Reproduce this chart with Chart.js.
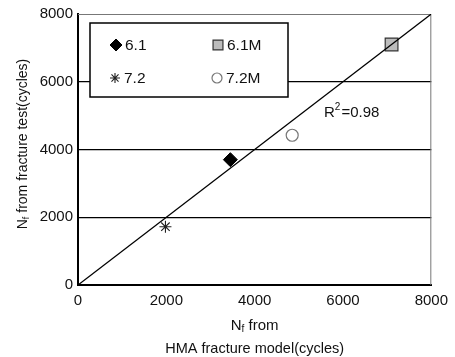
<!DOCTYPE html>
<html>
<head>
<meta charset="utf-8">
<script src="https://cdn.jsdelivr.net/npm/chart.js@4.4.0/dist/chart.umd.min.js"></script>
<style>
    body { margin: 0; background: #fff; }
    #wrap { width: 455px; height: 357px; }
</style>
</head>
<body>
<div id="wrap"><canvas id="nfChart" width="455" height="357"></canvas></div>
<script>
// values
const seriesNames = ['6.1', '6.1M', '7.2', '7.2M'];
const modelCycles = [3450, 7100, 1980, 4850];   // Nf from HMA fracture model
const testCycles = [3700, 7100, 1720, 4420];    // Nf from fracture test
const tickValues = [0, 2000, 4000, 6000, 8000];
const equalityLine = [0, 8000];
const rSquared = '0.98';

const FONT = '"Liberation Sans", Arial, sans-serif';

const pointLooks = [
    { pointStyle: 'rectRot', radius: 7, bg: '#000', border: '#000', width: 1 },
    { pointStyle: 'rect', radius: 9, bg: '#bcbcbc', border: '#333', width: 1.2 },
    { pointStyle: 'star', radius: 6, bg: '#000', border: '#222', width: 1.1 },
    { pointStyle: 'circle', radius: 6, bg: '#fff', border: '#777', width: 1.2 }
];

const datasets = seriesNames.map((name, i) => ({
    type: 'scatter',
    label: name,
    data: [{ x: modelCycles[i], y: testCycles[i] }],
    pointStyle: pointLooks[i].pointStyle,
    pointRadius: pointLooks[i].radius,
    pointBackgroundColor: pointLooks[i].bg,
    pointBorderColor: pointLooks[i].border,
    pointBorderWidth: pointLooks[i].width,
    order: 1
}));

datasets.push({
    type: 'line',
    label: 'y = x',
    data: equalityLine.map(v => ({ x: v, y: v })),
    borderColor: '#000',
    borderWidth: 1.3,
    pointRadius: 0,
    fill: false,
    order: 0
});

function drawParts(ctx, parts, x, y) {
    // parts: [text, size, baselineShift]
    let total = 0;
    parts.forEach(p => {
        ctx.font = p[1] + 'px ' + FONT;
        total += ctx.measureText(p[0]).width;
    });
    let cx = x - total / 2;
    parts.forEach(p => {
        ctx.font = p[1] + 'px ' + FONT;
        ctx.fillText(p[0], cx, y + p[2]);
        cx += ctx.measureText(p[0]).width;
    });
}

const extras = {
    id: 'extras',
    beforeDatasetsDraw(chart) {
        const ctx = chart.ctx;
        const a = chart.chartArea;
        ctx.save();
        ctx.strokeStyle = '#777';
        ctx.lineWidth = 1;
        ctx.beginPath();
        ctx.moveTo(a.left, a.top + 0.5);
        ctx.lineTo(a.right - 0.5, a.top + 0.5);
        ctx.lineTo(a.right - 0.5, a.bottom);
        ctx.stroke();
        ctx.restore();
    },
    afterDraw(chart) {
        const ctx = chart.ctx;
        const a = chart.chartArea;
        ctx.save();
        ctx.fillStyle = '#111';
        ctx.textAlign = 'left';
        ctx.textBaseline = 'alphabetic';

        // x title
        drawParts(ctx, [['N', 15, 0], ['f', 10, 2], [' from', 15, 0]], (a.left + a.right) / 2, 330);
        drawParts(ctx, [['HMA fracture model(cycles)', 14.5, 0]], (a.left + a.right) / 2, 353);

        // y title
        ctx.save();
        ctx.translate(27, 144);
        ctx.rotate(-Math.PI / 2);
        drawParts(ctx, [['N', 14, 0], ['f', 9, 2], [' from fracture test(cycles)', 14, 0]], 0, 0);
        ctx.restore();

        // R squared label
        ctx.font = '15px ' + FONT;
        ctx.fillText('R', 324, 117);
        let rw = ctx.measureText('R').width;
        ctx.font = '10px ' + FONT;
        ctx.fillText('2', 324 + rw, 110);
        rw += ctx.measureText('2').width;
        ctx.font = '15px ' + FONT;
        ctx.fillText('=' + rSquared, 324 + rw + 1, 117);

        // legend box
        const bx = 90, by = 23, bw = 198, bh = 74;
        ctx.fillStyle = '#fff';
        ctx.fillRect(bx, by, bw, bh);
        ctx.strokeStyle = '#000';
        ctx.lineWidth = 1.5;
        ctx.strokeRect(bx, by, bw, bh);

        const slots = [[116, 45], [218, 45], [115, 78], [217, 78]];
        seriesNames.forEach((name, i) => {
            const look = pointLooks[i];
            const [sx, sy] = slots[i];
            ctx.fillStyle = look.bg;
            ctx.strokeStyle = look.border;
            ctx.lineWidth = look.width;
            const r = i === 1 ? 7 : (i === 2 ? 5 : look.radius - 1);
            Chart.helpers.drawPoint(ctx, { pointStyle: look.pointStyle, radius: r, rotation: 0, borderWidth: look.width }, sx, sy);
            ctx.fillStyle = '#111';
            ctx.font = '15.5px ' + FONT;
            ctx.textBaseline = 'middle';
            ctx.fillText(name, sx + 9, sy + 1);
            ctx.textBaseline = 'alphabetic';
        });
        ctx.restore();
    }
};

new Chart(document.getElementById('nfChart'), {
    data: { datasets: datasets },
    options: {
        responsive: false,
        animation: false,
        layout: { padding: { top: 13, right: 20, left: 0, bottom: 0 } },
        plugins: {
            legend: { display: false },
            tooltip: { enabled: false }
        },
        scales: {
            x: {
                type: 'linear',
                min: 0,
                max: 8000,
                afterFit: scale => { scale.height = 72; },
                afterBuildTicks: scale => { scale.ticks = tickValues.map(v => ({ value: v })); },
                ticks: {
                    color: '#111',
                    padding: 7,
                    maxRotation: 0,
                    callback: v => String(v),
                    font: { family: FONT, size: 15 }
                },
                grid: { drawOnChartArea: false, drawTicks: false },
                border: { display: true, color: '#000', width: 2 }
            },
            y: {
                type: 'linear',
                min: 0,
                max: 8000,
                afterFit: scale => { scale.width = 78; },
                afterBuildTicks: scale => { scale.ticks = tickValues.map(v => ({ value: v })); },
                ticks: {
                    color: '#111',
                    padding: 5,
                    callback: v => String(v),
                    font: { family: FONT, size: 15 }
                },
                grid: {
                    drawTicks: false,
                    color: c => (c.tick && (c.tick.value === 0 || c.tick.value === 8000)) ? 'rgba(0,0,0,0)' : '#000',
                    lineWidth: 1.3
                },
                border: { display: true, color: '#000', width: 2 }
            }
        }
    },
    plugins: [extras]
});
</script>
</body>
</html>
